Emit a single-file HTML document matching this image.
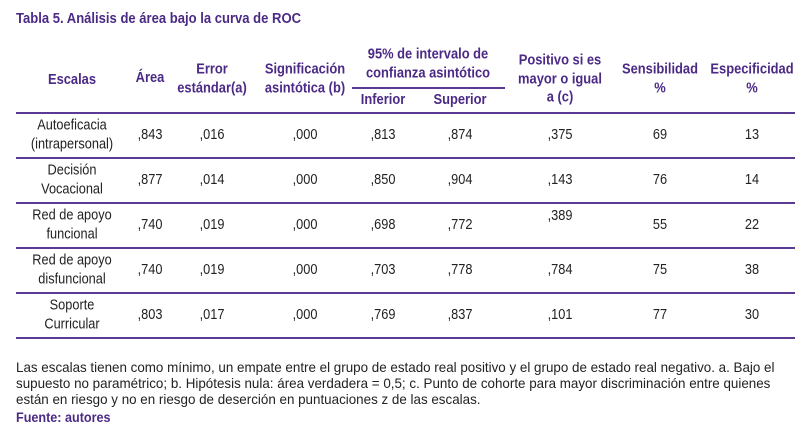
<!DOCTYPE html>
<html><head><meta charset="utf-8"><style>
body{margin:0;width:804px;height:428px;background:#fff;position:relative;overflow:hidden;font-family:"Liberation Sans Narrow","Liberation Sans",sans-serif;}
.t{position:absolute;transform:translate(-50%,-50%) scaleX(0.88);text-align:center;white-space:nowrap;font-size:14.5px;line-height:18.5px;color:#222;}
.ln{position:absolute;height:1.5px;background:#5a3a92;}
.fn{position:absolute;left:16px;font-size:13.6px;line-height:16px;color:#222;white-space:nowrap;transform-origin:0 0;transform:scaleX(0.985);}
.h{color:#4b2a86;font-weight:bold;font-size:14px;}
.t.h{font-size:15px;transform:translate(-50%,-50%) scaleX(0.86);}
</style></head><body>
<div class="fn h" style="top:11px;font-size:14.5px;transform:scaleX(0.9)">Tabla 5. Análisis de área bajo la curva de ROC</div>
<div class="t h" style="left:72px;top:80px">Escalas</div>
<div class="t h" style="left:150px;top:78px">Área</div>
<div class="t h" style="left:212px;top:79px">Error<br>estándar(a)</div>
<div class="t h" style="left:305px;top:79px">Significación<br>asintótica (b)</div>
<div class="t h" style="left:428px;top:64px">95% de intervalo de<br>confianza asintótico</div>
<div class="ln" style="left:352px;width:153px;top:87px"></div>
<div class="t h" style="left:383px;top:100px">Inferior</div>
<div class="t h" style="left:460px;top:100px">Superior</div>
<div class="t h" style="left:560px;top:79px">Positivo si es<br>mayor o igual<br>a (c)</div>
<div class="t h" style="left:660px;top:79px">Sensibilidad<br>%</div>
<div class="t h" style="left:752px;top:79px">Especificidad<br>%</div>
<div class="ln" style="left:16px;width:779px;top:112px"></div>
<div class="fn" style="top:360px">Las escalas tienen como mínimo, un empate entre el grupo de estado real positivo y el grupo de estado real negativo. a. Bajo el<br>supuesto no paramétrico; b. Hipótesis nula: área verdadera = 0,5; c. Punto de cohorte para mayor discriminación entre quienes<br>están en riesgo y no en riesgo de deserción en puntuaciones z de las escalas.</div>
<div class="fn h" style="top:409px;transform:scaleX(0.9)">Fuente: autores</div>
<script>
const escalas=["Autoeficacia<br>(intrapersonal)","Decisión<br>Vocacional","Red de apoyo<br>funcional","Red de apoyo<br>disfuncional","Soporte<br>Curricular"];
const area=[",843",",877",",740",",740",",803"];
const errorEst=[",016",",014",",019",",019",",017"];
const signif=[",000",",000",",000",",000",",000"];
const inferior=[",813",",850",",698",",703",",769"];
const superior=[",874",",904",",772",",778",",837"];
const positivo=[",375",",143",",389",",784",",101"];
const sensib=["69","76","55","75","77"];
const especif=["13","14","22","38","30"];
const cols=[[escalas,72],[area,150],[errorEst,212],[signif,305],[inferior,383],[superior,460],[positivo,560],[sensib,660],[especif,752]];
const names=["escala","area","error","significacion","inferior","superior","positivo","sensibilidad","especificidad"];
const root=document.body;
for(let r=0;r<escalas.length;r++){
  const cy=135+r*45;
  cols.forEach(([arr,x],c)=>{
    const el=document.createElement('div');
    el.className='t';
    el.style.left=x+'px';
    let y=cy;
    if(c===6&&r===2)y=cy-9;
    el.style.top=y+'px';
    el.innerHTML=arr[r];
    
    
    root.appendChild(el);
  });
  const ln=document.createElement('div');
  ln.className='ln';
  ln.style.left='16px';ln.style.width='779px';ln.style.top=(157+r*45)+'px';
  
  
  root.appendChild(ln);
}
</script>
</body></html>
